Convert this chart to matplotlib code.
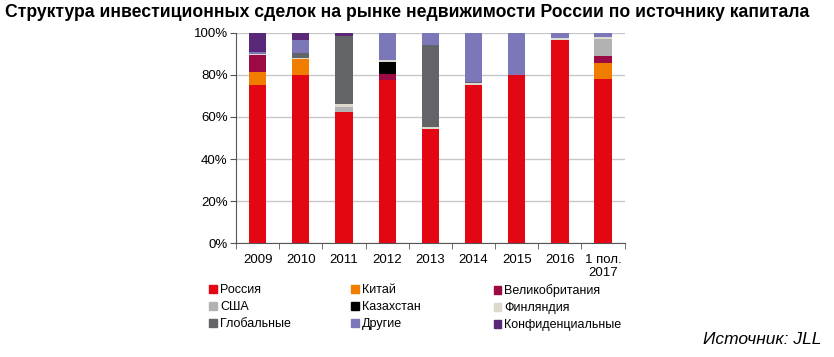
import matplotlib.pyplot as plt
from matplotlib.patches import Patch

plt.rcParams['font.family'] = ['Liberation Sans', 'DejaVu Sans']

years = ["2009", "2010", "2011", "2012", "2013", "2014", "2015", "2016", "1 пол.\n2017"]

# доли, %
russia = [75.0, 80.2, 62.5, 77.8, 54.4, 75.2, 80.2, 96.5, 78.3]
china = [6.5, 7.4, 0, 0, 0, 0, 0, 0, 7.4]
uk = [8.0, 0, 0, 2.9, 0, 0, 0, 0, 3.5]
usa = [0, 0, 2.2, 0, 0, 0, 0, 0, 7.9]
kazakh = [0, 0, 0, 5.4, 0, 0, 0, 0, 0]
finland = [0.3, 0.4, 1.6, 1.2, 1.0, 0.8, 0, 1.0, 1.0]
globaln = [0, 2.7, 32.3, 0, 39.1, 0.6, 0, 0, 0]
others = [1.2, 5.8, 0, 12.7, 5.5, 23.4, 19.8, 2.5, 1.9]
confid = [9.0, 3.5, 1.4, 0, 0, 0, 0, 0, 0]

series = [
    ("Россия", russia, "#e30613"),
    ("Китай", china, "#f07d00"),
    ("Великобритания", uk, "#9b0a45"),
    ("США", usa, "#b2b2b2"),
    ("Казахстан", kazakh, "#000000"),
    ("Финляндия", finland, "#dcd9cf"),
    ("Глобальные", globaln, "#636468"),
    ("Другие", others, "#7b77b9"),
    ("Конфиденциальные", confid, "#5a2878"),
]

fig = plt.figure(figsize=(8.34, 3.57), dpi=100)
ax = fig.add_axes([0.283, 0.3193, 0.466, 0.5883])

x = list(range(len(years)))
bottom = [0.0] * len(years)
for name, vals, col in series:
    ax.bar(x, vals, 0.4, bottom=bottom, color=col, zorder=3)
    bottom = [b + v for b, v in zip(bottom, vals)]

ax.set_xlim(-0.5, len(years) - 0.5)
ax.set_ylim(0, 100)
ax.set_yticks([0, 20, 40, 60, 80, 100])
ax.set_yticklabels([f"{v}%" for v in [0, 20, 40, 60, 80, 100]], fontsize=9.5)
ax.yaxis.grid(True, color="#c8c8c8", lw=1, zorder=0)
ax.set_xticks(x)
ax.set_xticklabels(years, fontsize=9.5, linespacing=1.15)
ax.set_xticks([i - 0.5 for i in range(len(years) + 1)], minor=True)
ax.tick_params(axis="x", which="major", length=0, pad=8)
ax.tick_params(axis="x", which="minor", length=4, color="#555555", direction="out")
ax.tick_params(axis="y", length=4, color="#555555", pad=2)
for s in ["top", "right"]:
    ax.spines[s].set_visible(False)
ax.spines["left"].set_color("#555555")
ax.spines["bottom"].set_color("#555555")

fig.text(0.006, 0.965, "Структура инвестиционных сделок на рынке недвижимости России по источнику капитала",
         fontsize=12.7, fontweight="bold", va="center", ha="left")

# легенда в три колонки
colx = [0.251, 0.421, 0.592]
for c in range(3):
    items = [series[r * 3 + c] for r in range(3)]
    handles = [Patch(color=col) for _, _, col in items]
    fig.legend(handles, [n for n, _, _ in items], loc="upper left",
               bbox_to_anchor=(colx[c], 0.204), frameon=False, fontsize=9,
               handlelength=0.6, handleheight=0.6, handletextpad=0.25,
               labelspacing=0.4, borderaxespad=0, borderpad=0)

fig.text(0.985, 0.05, "Источник: JLL", fontsize=12.5, style="italic", ha="right", va="center")

fig.savefig("out.png", dpi=100)
